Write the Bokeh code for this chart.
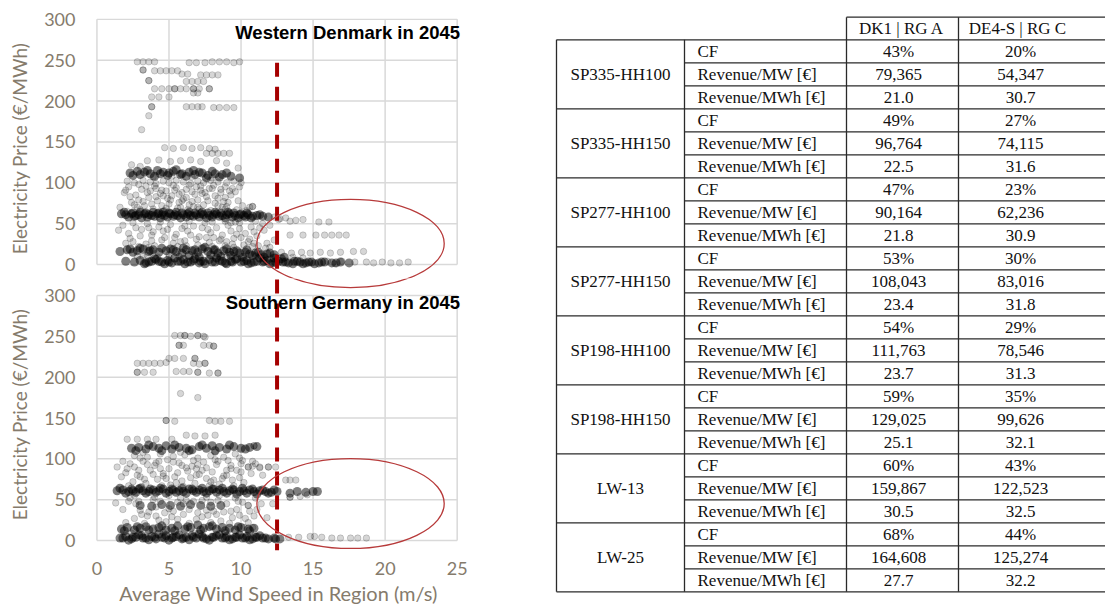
from bokeh.core.properties import value
from bokeh.embed import file_html
from bokeh.layouts import column, row
from bokeh.models import FixedTicker, Label
from bokeh.plotting import figure
from bokeh.resources import INLINE

# ---------------------------------------------------------------------------
# Axes
WIND_TICKS = [0, 5, 10, 15, 20, 25]
PRICE_TICKS = [0, 50, 100, 150, 200, 250, 300]
THRESHOLD_WIND = 12.5  # wind speed marked by the dashed line

# ---------------------------------------------------------------------------
# Western Denmark (DK1) hourly observations: (wind speed m/s, price EUR/MWh)
# crowded price levels
dk1_dense = [
    # ~60 EUR/MWh level
    (1.7, 62), (2.0, 61), (2.4, 62), (2.7, 60), (2.9, 61), (3.3, 62), (3.6, 61), (3.8, 60),
    (4.2, 62), (4.5, 61), (4.7, 60), (5.1, 62), (5.4, 61), (5.6, 60), (6.0, 61), (6.3, 62),
    (6.5, 60), (6.9, 61), (7.2, 62), (7.4, 61), (7.8, 60), (8.1, 61), (8.3, 62), (8.7, 60),
    (9.0, 61), (9.2, 62), (9.6, 60), (9.9, 61), (10.2, 60), (10.5, 61), (10.8, 59), (11.1, 60),
    (11.5, 59), (11.9, 58),
    (2.2, 58), (2.6, 59), (3.1, 57), (3.5, 58), (4.0, 59), (4.4, 57), (4.9, 58), (5.3, 59),
    (5.8, 57), (6.2, 58), (6.7, 59), (7.1, 58), (7.6, 57), (8.0, 58), (8.5, 59), (8.9, 57),
    (9.4, 58), (9.8, 57), (10.3, 58), (10.7, 57),
    (1.9, 64), (2.5, 63), (3.0, 64), (3.4, 63), (3.9, 64), (4.3, 63), (4.6, 64), (5.0, 63),
    (5.5, 64), (5.9, 63), (6.4, 64), (6.8, 63), (7.3, 64), (7.7, 63), (8.2, 64), (8.6, 63),
    (9.1, 64), (9.5, 63), (10.0, 62), (10.4, 63), (11.3, 61),
    # ~17 EUR/MWh level
    (1.6, 16), (2.1, 18), (2.5, 15), (2.8, 17), (3.2, 19), (3.6, 16), (3.9, 18), (4.3, 15),
    (4.8, 17), (5.1, 19), (5.5, 16), (5.9, 14), (6.2, 18), (6.6, 17), (7.0, 15), (7.3, 19),
    (7.7, 16), (8.1, 18), (8.4, 14), (8.8, 17), (9.2, 15), (9.5, 16), (9.9, 14), (10.3, 15),
    (10.6, 13), (11.0, 14), (11.4, 12), (11.8, 13), (12.3, 12),
    (2.3, 19), (3.0, 20), (3.7, 17), (4.5, 20), (5.3, 18), (6.0, 20), (6.8, 18), (7.5, 21),
    (8.2, 18), (9.0, 19), (9.7, 17), (10.4, 18), (11.2, 15), (12.0, 14),
    # between the two low levels
    (6.4, 11), (7.1, 9), (7.9, 12), (8.6, 10), (9.3, 11), (10.1, 9), (10.8, 11), (11.6, 9),
    (12.3, 8), (13.0, 9),
    # near-zero prices
    (2.0, 4), (2.6, 3), (3.0, 5), (3.4, 2), (3.8, 4), (4.1, 6), (4.5, 3), (4.9, 5),
    (5.2, 2), (5.6, 4), (6.0, 6), (6.3, 3), (6.7, 5), (7.1, 2), (7.4, 4), (7.8, 6),
    (8.2, 3), (8.5, 5), (8.9, 2), (9.3, 4), (9.6, 6), (10.0, 3), (10.4, 5), (10.7, 2),
    (11.1, 4), (11.5, 3), (11.8, 5), (12.2, 2), (12.6, 4), (12.9, 3), (13.3, 2), (13.7, 4),
    (14.1, 3), (14.5, 2), (14.9, 3), (15.4, 2), (15.8, 3), (16.3, 2), (16.9, 3), (17.5, 2),
    (3.3, 1), (4.0, 7), (4.7, 1), (5.4, 8), (6.1, 1), (6.8, 7), (7.5, 1), (8.3, 8),
    (9.0, 1), (9.7, 7), (10.5, 1), (11.3, 8), (12.0, 1), (12.8, 7), (13.6, 1), (14.3, 1),
    (15.1, 1),
    (3.6, 3), (4.3, 4), (5.0, 3), (5.8, 4), (6.5, 3), (7.2, 4), (8.0, 3), (8.7, 4),
    (9.4, 3), (10.2, 4), (10.9, 3), (11.6, 4), (12.4, 3), (13.1, 3), (13.9, 4), (14.7, 3),
    (15.6, 3), (16.6, 2),
    # ~112 EUR/MWh level
    (2.3, 112), (2.8, 114), (3.3, 113), (3.7, 111), (4.2, 115), (4.6, 113), (5.0, 112),
    (5.5, 116), (5.9, 111), (6.4, 113), (6.8, 110), (7.3, 112), (7.7, 109), (8.2, 111),
    (8.7, 110), (9.3, 108), (9.9, 106),
    (2.5, 109), (3.0, 110), (3.5, 115), (4.0, 108), (4.4, 111), (4.9, 109), (5.3, 114),
    (5.8, 110), (6.2, 108), (6.7, 115), (7.1, 113), (7.6, 106), (8.0, 114), (8.5, 107),
    (9.0, 112),
]

# scattered hours
dk1_sparse = [
    (2.2, 95), (3.1, 92), (4.0, 96), (4.8, 90), (5.5, 94), (6.4, 97), (7.2, 91), (8.0, 93),
    (8.9, 95), (9.6, 89), (2.7, 85), (3.6, 82), (4.4, 87), (5.2, 84), (6.0, 80), (6.8, 86),
    (7.6, 83), (8.4, 81), (9.3, 85), (2.4, 76), (3.3, 72), (4.2, 78), (5.0, 74), (5.8, 70),
    (6.6, 77), (7.4, 73), (8.2, 75), (9.0, 71), (3.0, 67), (3.9, 68), (4.7, 66), (5.6, 69),
    (6.3, 67), (7.1, 68), (7.9, 66), (8.7, 70), (10.1, 72), (1.9, 88), (2.9, 79), (4.5, 91),
    (5.9, 88), (7.0, 79), (8.6, 88), (9.8, 78), (1.6, 70),
    (2.0, 91), (2.9, 98), (3.5, 88), (4.1, 93), (4.6, 84), (5.3, 97), (5.7, 86), (6.2, 92),
    (6.9, 95), (7.5, 88), (8.1, 97), (8.6, 92), (9.2, 90), (9.9, 95), (3.2, 77), (3.8, 74),
    (4.5, 72), (5.1, 79), (5.7, 76), (6.4, 73), (7.0, 70), (7.7, 78), (8.4, 72), (9.1, 76),
    (9.7, 67), (10.4, 66), (2.1, 65), (2.8, 70), (4.1, 83), (6.2, 82), (7.3, 87), (8.9, 82),
    (2.3, 83), (3.4, 96), (4.9, 81), (5.4, 91), (6.6, 89), (7.8, 93), (8.8, 77), (9.4, 93),
    (3.7, 90), (5.9, 78), (7.2, 96), (8.2, 84), (2.6, 73), (4.8, 69), (6.7, 71), (8.9, 68),
    (2.1, 102), (2.6, 100), (3.2, 103), (3.7, 101), (4.1, 99), (4.6, 102), (5.0, 100),
    (5.5, 103), (6.0, 101), (6.5, 99), (7.0, 102), (7.4, 100), (7.9, 103), (8.4, 101),
    (9.0, 100), (9.5, 102), (10.0, 100), (3.9, 107), (5.2, 108), (6.6, 107), (8.0, 106),
    (1.8, 48), (2.7, 45), (3.5, 50), (4.3, 46), (5.1, 49), (5.9, 44), (6.7, 47), (7.5, 51),
    (8.3, 45), (9.1, 48), (9.9, 44), (10.7, 46), (11.5, 50), (2.2, 38), (3.0, 35), (3.9, 40),
    (4.7, 33), (5.5, 37), (6.3, 41), (7.1, 34), (7.9, 39), (8.7, 36), (9.5, 32), (10.3, 38),
    (11.1, 35), (2.5, 28), (3.4, 25), (4.5, 30), (5.3, 26), (6.1, 29), (7.0, 24), (7.8, 27),
    (8.6, 31), (9.4, 25), (10.5, 28), (11.8, 26), (12.3, 30), (9.3, 51), (9.6, 52), (9.9, 51),
    (8.9, 53), (10.8, 22), (9.5, 21), (11.6, 8), (12.4, 9),
    (1.5, 42), (2.3, 32), (3.1, 43), (3.8, 29), (4.6, 41), (5.4, 33), (6.1, 47), (6.9, 31),
    (7.7, 43), (8.5, 29), (9.3, 41), (10.0, 33), (10.9, 40), (11.6, 42), (2.9, 22), (4.0, 23),
    (5.6, 22), (7.4, 21), (8.9, 23), (10.2, 24), (11.2, 23), (12.0, 21), (3.2, 10), (5.0, 9),
    (6.8, 10), (9.0, 9), (11.0, 10), (12.1, 7),
    (3.6, 45), (4.9, 43), (6.5, 36), (7.3, 45), (8.1, 33), (9.7, 37), (10.6, 31), (11.3, 45),
    (2.0, 26), (3.8, 36), (5.8, 28), (7.6, 33), (9.0, 28), (10.9, 26), (4.4, 52), (6.4, 53),
    (8.0, 52), (2.5, 51), (11.0, 53), (12.0, 48), (3.6, 21), (6.2, 23), (8.0, 22), (11.7, 20),
    (2.8, 10), (3.5, 11), (4.2, 9), (5.0, 12), (5.7, 10), (13.6, 9), (14.3, 8),
    (10.8, 71), (10.8, 71), (10.6, 70), (12.3, 58), (12.7, 56), (13.1, 57), (12.6, 55),
    (13.4, 53), (13.8, 54), (14.3, 55), (15.4, 52), (16.1, 52),
    (13.4, 36), (14.3, 36), (15.2, 36), (15.8, 36), (16.3, 36), (16.8, 36), (17.3, 36),
    (12.8, 15), (13.5, 14), (14.2, 15), (14.8, 14), (15.5, 15), (16.2, 14), (16.9, 15),
    (17.8, 16), (18.5, 16), (17.9, 3), (18.7, 3), (19.2, 2), (19.8, 3), (20.4, 2), (21.0, 2),
    (21.6, 3), (16.0, 4), (17.0, 4), (16.5, 1),
    (2.8, 248), (3.2, 248), (3.6, 248), (4.0, 248), (6.4, 247), (6.9, 247), (7.5, 247),
    (8.0, 248), (8.5, 248), (9.0, 248), (9.5, 247), (9.9, 248),
    (3.2, 238), (3.2, 238), (4.0, 237), (4.4, 237), (4.8, 237), (5.2, 237), (5.6, 237),
    (5.9, 233), (6.3, 233), (7.2, 232), (7.6, 232), (8.0, 232), (8.4, 232),
    (3.6, 225), (3.6, 225), (6.2, 224), (6.6, 224), (7.0, 224), (7.4, 224),
    (4.0, 215), (4.5, 215), (5.0, 215), (5.4, 215), (5.4, 215), (5.8, 215), (6.2, 215),
    (6.7, 215), (6.7, 215), (7.1, 215), (7.8, 215), (7.8, 215), (6.7, 210), (7.0, 210),
    (3.8, 205), (4.3, 205), (5.0, 205), (3.8, 193), (3.8, 193), (6.2, 193), (6.6, 193),
    (7.0, 193), (7.3, 193), (8.1, 192), (8.5, 192), (9.0, 192), (9.5, 192), (3.6, 182),
    (3.1, 165),
    (4.7, 143), (5.3, 142), (6.0, 143), (6.6, 142), (7.2, 143), (7.8, 142), (8.2, 141),
    (7.6, 136), (8.0, 136), (8.4, 136), (8.8, 136), (9.2, 136), (3.5, 127), (4.3, 128),
    (5.1, 126), (5.8, 127), (6.5, 128), (7.2, 126), (8.3, 127), (9.0, 124), (2.4, 122),
    (3.0, 120), (9.8, 118),
]

# ---------------------------------------------------------------------------
# Southern Germany (DE4-S) hourly observations: (wind speed m/s, price EUR/MWh)
de4_dense = [
    # ~61 EUR/MWh level
    (1.4, 61), (1.8, 62), (2.2, 60), (2.5, 61), (2.9, 63), (3.2, 61), (3.6, 60), (3.9, 62),
    (4.3, 61), (4.6, 63), (5.0, 60), (5.3, 62), (5.7, 61), (6.0, 60), (6.4, 63), (6.7, 61),
    (7.1, 62), (7.4, 60), (7.8, 61), (8.1, 63), (8.5, 62), (8.8, 60), (9.2, 61), (9.5, 62),
    (9.9, 60), (10.2, 61), (10.6, 62), (10.9, 60), (11.3, 61), (11.7, 60), (12.1, 59),
    (12.5, 60),
    (2.0, 58), (2.7, 59), (3.4, 58), (4.1, 59), (4.8, 58), (5.5, 59), (6.2, 58), (6.9, 59),
    (7.6, 58), (8.3, 59), (9.0, 58), (9.7, 57), (10.4, 58), (11.1, 57), (11.9, 58),
    (1.6, 64), (2.4, 63), (3.0, 64), (3.7, 63), (4.4, 64), (5.2, 63), (5.9, 64), (6.6, 63),
    (7.3, 64), (8.0, 63), (8.7, 64), (9.4, 63), (10.1, 64), (10.8, 63), (11.5, 62), (12.3, 62),
    (13.4, 58), (13.9, 60), (14.5, 59), (15.0, 60), (15.3, 60),
    # near-zero prices
    (1.6, 3), (2.0, 5), (2.4, 2), (2.7, 4), (3.1, 6), (3.4, 3), (3.8, 5), (4.1, 2),
    (4.5, 4), (4.8, 6), (5.2, 3), (5.5, 5), (5.9, 2), (6.2, 4), (6.6, 6), (6.9, 3),
    (7.3, 5), (7.6, 2), (8.0, 4), (8.3, 6), (8.7, 3), (9.0, 5), (9.4, 2), (9.7, 4),
    (10.1, 3), (10.4, 5), (10.8, 2), (11.1, 4), (11.5, 3), (11.9, 2), (12.3, 3), (12.7, 2),
    (2.2, 0.5), (2.9, 7), (3.6, 1), (4.3, 8), (5.0, 0.5), (5.7, 7), (6.4, 1), (7.1, 8),
    (7.8, 0.5), (8.5, 7), (9.2, 1), (9.9, 7), (10.6, 1), (11.3, 6),
    (1.8, 3), (2.5, 4), (3.2, 3), (4.0, 4), (4.7, 3), (5.3, 4), (6.0, 3), (6.7, 4),
    (7.4, 3), (8.1, 4), (8.9, 3), (9.6, 4), (10.3, 3), (11.0, 4), (11.7, 3), (12.4, 2),
    # ~15 EUR/MWh level
    (1.7, 14), (2.1, 16), (2.6, 13), (3.0, 15), (3.4, 17), (3.9, 14), (4.3, 16), (4.8, 13),
    (5.2, 15), (5.6, 18), (6.1, 14), (6.5, 16), (7.0, 19), (7.4, 15), (7.8, 17), (8.3, 14),
    (8.7, 16), (9.2, 15), (9.6, 13), (10.0, 16), (10.5, 14), (10.9, 15),
    (1.9, 12), (2.8, 17), (3.6, 13), (4.5, 18), (5.4, 12), (6.3, 17), (7.2, 13), (8.0, 18),
    (8.9, 12), (9.8, 17), (10.6, 12),
    # ~115 EUR/MWh level
    (2.4, 113), (2.9, 114), (3.4, 112), (3.9, 115), (4.3, 113), (4.8, 116), (5.2, 112),
    (5.7, 114), (6.2, 113), (6.6, 111), (7.1, 115), (7.6, 113), (8.0, 116), (8.5, 114),
    (9.0, 112), (9.5, 115), (10.0, 113), (10.6, 114), (11.1, 115),
    (2.7, 110), (3.6, 117), (4.5, 110), (5.4, 117), (6.4, 110), (7.3, 117), (8.2, 110),
    (9.2, 117), (10.3, 112),
    # ~43 EUR/MWh level
    (3.0, 43), (3.8, 42), (4.5, 44), (5.1, 43), (5.8, 42), (6.5, 44), (7.2, 43), (7.9, 42),
    (8.6, 43),
]

de4_sparse = [
    (1.4, 90), (2.3, 94), (3.2, 97), (4.0, 92), (4.9, 99), (5.7, 95), (6.6, 91), (7.4, 96),
    (8.3, 93), (9.1, 98), (10.0, 94), (10.8, 91), (2.0, 83), (2.8, 80), (3.7, 86), (4.6, 82),
    (5.4, 78), (6.3, 85), (7.1, 81), (8.0, 84), (8.8, 79), (9.7, 86), (10.5, 90), (11.3, 89),
    (2.5, 72), (3.4, 70), (4.2, 75), (5.1, 68), (5.9, 73), (6.8, 70), (7.6, 76), (8.5, 69),
    (9.4, 74), (10.2, 71), (11.9, 90), (12.4, 90), (4.4, 88), (6.9, 88), (9.3, 88),
    (1.8, 97), (2.6, 90), (3.5, 93), (4.3, 97), (5.0, 88), (5.9, 92), (6.7, 98), (7.6, 89),
    (8.4, 97), (9.3, 92), (10.1, 98), (11.0, 94), (3.0, 78), (3.9, 81), (4.8, 76), (5.6, 83),
    (6.5, 77), (7.3, 86), (8.1, 74), (9.0, 80), (9.9, 77), (10.7, 82), (2.2, 67), (3.1, 66),
    (4.5, 67), (6.0, 66), (7.8, 67), (9.5, 67),
    (2.1, 88), (3.0, 101), (4.1, 95), (5.3, 96), (6.2, 89), (7.0, 93), (8.2, 99), (9.0, 86),
    (9.9, 101), (10.8, 97), (3.3, 75), (4.6, 79), (5.5, 71), (6.9, 80), (7.9, 72), (8.7, 76),
    (10.0, 84), (11.5, 80), (1.7, 78), (2.9, 86),
    (2.6, 104), (3.5, 102), (4.4, 106), (5.3, 103), (6.1, 105), (7.0, 101), (7.9, 104),
    (8.8, 102), (9.6, 106), (3.2, 108), (5.8, 108), (8.2, 108),
    (1.3, 46), (2.2, 48), (3.0, 37), (3.9, 50), (4.7, 34), (5.6, 47), (6.4, 38), (7.3, 49),
    (8.1, 36), (9.0, 45), (9.8, 48), (10.5, 43), (2.6, 27), (3.5, 30), (4.3, 25), (5.2, 29),
    (6.0, 32), (6.9, 26), (7.7, 31), (8.6, 24), (9.4, 28), (10.3, 27), (11.4, 45), (12.2, 45),
    (11.8, 28),
    (1.8, 38), (2.7, 45), (3.6, 35), (4.4, 48), (5.3, 36), (6.2, 49), (7.0, 34), (7.9, 47),
    (8.8, 35), (9.7, 38), (10.6, 36), (2.0, 22), (3.3, 21), (4.8, 23), (6.4, 21), (7.9, 22),
    (9.2, 21), (10.5, 22), (2.4, 9), (4.6, 10), (6.8, 9), (8.9, 10), (2.3, 52), (4.0, 53),
    (5.8, 52), (7.6, 53), (9.6, 52), (11.0, 52),
    (2.9, 48), (4.1, 41), (5.0, 39), (6.0, 45), (6.7, 48), (7.6, 37), (8.4, 49), (9.3, 36),
    (10.1, 47), (11.1, 38), (3.1, 32), (4.1, 30), (5.6, 26), (7.3, 29), (8.3, 32), (9.9, 31),
    (10.9, 30), (2.6, 55), (5.0, 55), (8.5, 55),
    (2.1, 124), (2.8, 124), (3.5, 124), (4.1, 124), (5.2, 124), (6.2, 129), (6.8, 128),
    (7.5, 128), (8.2, 129),
    (5.4, 251), (5.8, 251), (6.1, 251), (6.1, 251), (6.5, 250), (7.0, 251), (7.0, 251),
    (7.4, 250), (7.5, 249),
    (5.7, 239), (5.7, 239), (6.0, 239), (7.4, 239), (7.8, 239), (8.1, 238), (8.1, 238),
    (5.0, 223), (5.4, 223), (6.0, 223), (6.8, 223), (6.8, 223),
    (2.8, 217), (3.2, 217), (3.6, 217), (4.0, 217), (4.4, 217), (4.8, 218), (6.7, 217),
    (7.1, 216), (7.5, 217), (7.5, 217),
    (2.8, 206), (2.8, 206), (3.3, 206), (3.9, 206), (5.5, 207), (6.0, 207), (6.4, 207),
    (7.0, 206), (7.0, 206), (7.8, 205), (8.4, 205), (8.4, 205),
    (5.8, 180), (7.0, 175),
    (4.8, 147), (4.8, 147), (5.4, 146), (7.8, 147), (8.2, 146), (8.6, 146), (9.2, 146),
    (10.9, 116), (10.9, 116), (10.5, 90), (11.3, 90), (11.9, 90), (13.1, 74), (13.4, 74),
    (13.8, 74), (13.4, 53), (13.4, 53), (14.1, 54), (14.6, 56), (10.5, 43), (10.2, 16),
    (10.8, 16), (13.3, 4), (14.0, 4), (14.8, 5), (15.1, 5), (15.6, 4), (16.3, 3), (16.9, 3),
    (17.6, 3), (18.1, 3), (18.7, 3),
]

# ---------------------------------------------------------------------------
# Turbine comparison table
table_columns = ["DK1 | RG A", "DE4-S | RG C"]
turbines = ["SP335-HH100", "SP335-HH150", "SP277-HH100", "SP277-HH150",
            "SP198-HH100", "SP198-HH150", "LW-13", "LW-25"]
metrics = ["CF", "Revenue/MW [€]", "Revenue/MWh [€]"]
dk1_cf = [43, 49, 47, 53, 54, 59, 60, 68]
dk1_rev_mw = [79365, 96764, 90164, 108043, 111763, 129025, 159867, 164608]
dk1_rev_mwh = [21.0, 22.5, 21.8, 23.4, 23.7, 25.1, 30.5, 27.7]
de4_cf = [20, 27, 23, 30, 29, 35, 43, 44]
de4_rev_mw = [54347, 74115, 62236, 83016, 78546, 99626, 122523, 125274]
de4_rev_mwh = [30.7, 31.6, 30.9, 31.8, 31.3, 32.1, 32.5, 32.2]

# ---------------------------------------------------------------------------
GRID_COLOR = "#d9d9d9"
AXIS_TEXT = "#857b6c"
AXIS_FONT = "Lato"
DASH_COLOR = "#a50000"
RING_COLOR = "#b73a3a"

# both panels share one price scale; the lower panel sits this many price
# units below the upper one, so shared outlines can cross the gap
PANEL_SHIFT = 338.0
RING_WIND, RING_WIDTH = 17.6, 13.0
DK1_RING = (25.7, 108.0)   # centre price, height
DE4_RING = (45.3, 110.0)
DASH_START = 247.0


def style_axis(ax, ticks, standoff):
    ax.ticker = FixedTicker(ticks=ticks)
    ax.axis_line_color = None
    ax.major_tick_line_color = None
    ax.minor_tick_line_color = None
    ax.major_label_standoff = standoff
    ax.major_label_text_font = AXIS_FONT
    ax.major_label_text_font_size = "18px"
    ax.major_label_text_color = AXIS_TEXT
    ax.axis_label_text_font = AXIS_FONT
    ax.axis_label_text_font_size = "19px"
    ax.axis_label_text_font_style = "normal"
    ax.axis_label_text_color = AXIS_TEXT


def scatter_panel(height, border_top, border_bottom, price_range, dense, sparse,
                  title, title_price, rings, dash_top, dash_offset, with_wind_axis):
    p = figure(width=470, height=height, x_range=(-0.1, 25.3), y_range=price_range,
               min_border_left=95, min_border_right=9,
               min_border_top=border_top, min_border_bottom=border_bottom,
               x_axis_location="below" if with_wind_axis else None,
               y_axis_location="left",
               output_backend="svg", toolbar_location=None)
    p.outline_line_color = None
    p.grid.visible = False

    # plot-area grid and border
    lo_w, hi_w = WIND_TICKS[0], WIND_TICKS[-1]
    lo_p, hi_p = PRICE_TICKS[0], PRICE_TICKS[-1]
    p.segment(x0=WIND_TICKS, y0=[lo_p] * len(WIND_TICKS), x1=WIND_TICKS,
              y1=[hi_p] * len(WIND_TICKS), line_color=GRID_COLOR, line_width=1.5)
    p.segment(x0=[lo_w] * len(PRICE_TICKS), y0=PRICE_TICKS, x1=[hi_w] * len(PRICE_TICKS),
              y1=PRICE_TICKS, line_color=GRID_COLOR, line_width=1.5)

    # hourly points
    sw, sp = zip(*sparse)
    p.scatter(x=list(sw), y=list(sp), marker="circle", size=6.5, fill_color="black",
              fill_alpha=0.16, line_color="black", line_alpha=0.16)
    dw, dp = zip(*dense)
    p.scatter(x=list(dw), y=list(dp), marker="circle", size=9, fill_color="black",
              fill_alpha=0.5, line_color=None)

    # wind speed threshold and highlighted high-wind regions
    p.segment(x0=[THRESHOLD_WIND], y0=[dash_top], x1=[THRESHOLD_WIND], y1=[price_range[0]],
              line_color=DASH_COLOR, line_width=4, line_dash="14 10",
              line_dash_offset=dash_offset, line_cap="butt")
    for centre, h in rings:
        p.ellipse(x=[RING_WIND], y=[centre], width=RING_WIDTH, height=h,
                  fill_color=None, line_color=RING_COLOR, line_width=1.3)

    ya = p.yaxis[0]
    style_axis(ya, PRICE_TICKS, 14)
    ya.axis_label = "Electricity Price (€/MWh)"
    ya.axis_label_standoff = 10

    if with_wind_axis:
        xa = p.xaxis[0]
        style_axis(xa, WIND_TICKS, 5)
        xa.axis_label = "Average Wind Speed in Region (m/s)"
        xa.axis_label_text_font_size = "20px"
        xa.axis_label_standoff = 3

    p.add_layout(Label(x=25.2, y=title_price, text=title, text_align="right",
                       text_baseline="middle", text_font="Liberation Sans",
                       text_font_style="bold", text_font_size="18.5px", text_color="black"))
    return p


top = scatter_panel(278, 18, 0, (-17.1, 301), dk1_dense, dk1_sparse,
                    "Western Denmark in 2045", 284,
                    [DK1_RING], DASH_START, 0, False)
bottom = scatter_panel(329, 0, 57, (-12.2, 320.8), de4_dense, de4_sparse,
                       "Southern Germany in 2045", 291,
                       [DE4_RING, (DK1_RING[0] + PANEL_SHIFT, DK1_RING[1])],
                       320.8, 23, True)

# ---------------------------------------------------------------------------
# table drawn in page-pixel coordinates
table = figure(width=635, height=607, x_range=(470, 1105), y_range=(607, 0),
               min_border=0, x_axis_location=None, y_axis_location=None,
               output_backend="svg", toolbar_location=None)
table.outline_line_color = None
table.grid.visible = False

col_edges = [556, 684, 846, 958, 1105]
head_top, body_top, row_h = 16.7, 39.3, 23.0
n_rows = len(turbines) * len(metrics)
body_bottom = body_top + n_rows * row_h

hx0, hy0, hx1, hy1 = [], [], [], []
hx0 += [col_edges[2]]; hy0 += [head_top]; hx1 += [col_edges[4]]; hy1 += [head_top]
for r in range(n_rows + 1):
    yy = body_top + r * row_h
    start = col_edges[0] if r % len(metrics) == 0 else col_edges[1]
    hx0.append(start); hy0.append(yy); hx1.append(col_edges[4]); hy1.append(yy)
for cx in col_edges[:2]:
    hx0.append(cx); hy0.append(body_top); hx1.append(cx); hy1.append(body_bottom)
for cx in col_edges[2:4]:
    hx0.append(cx); hy0.append(head_top); hx1.append(cx); hy1.append(body_bottom)
table.segment(x0=hx0, y0=hy0, x1=hx1, y1=hy1, line_color="#2a2a2a", line_width=1.3)

cell_x, cell_y, cell_text, cell_align = [], [], [], []
head_mid = [901, 1017]
value_mid = [898, 1020]
for j, name in enumerate(table_columns):
    cell_x.append(head_mid[j]); cell_y.append((head_top + body_top) / 2)
    cell_text.append(name); cell_align.append("center")
for g, turbine in enumerate(turbines):
    base = body_top + g * len(metrics) * row_h
    cell_x.append((col_edges[0] + col_edges[1]) / 2)
    cell_y.append(base + 1.5 * row_h)
    cell_text.append(turbine); cell_align.append("center")
    vals = [
        (f"{dk1_cf[g]}%", f"{de4_cf[g]}%"),
        (f"{dk1_rev_mw[g]:,}", f"{de4_rev_mw[g]:,}"),
        (f"{dk1_rev_mwh[g]:.1f}", f"{de4_rev_mwh[g]:.1f}"),
    ]
    for m, metric in enumerate(metrics):
        yy = base + (m + 0.5) * row_h
        cell_x.append(col_edges[1] + 13); cell_y.append(yy)
        cell_text.append(metric); cell_align.append("left")
        for j in range(2):
            cell_x.append(value_mid[j]); cell_y.append(yy)
            cell_text.append(vals[m][j]); cell_align.append("center")

table.text(x=cell_x, y=cell_y, text=cell_text, text_align=cell_align,
           text_baseline="middle", text_font=value("Liberation Serif"),
           text_font_size="17px", text_color="#111111")

layout = row(column(top, bottom), table)

with open("out.html", "w") as fh:
    fh.write(file_html(layout, INLINE))
